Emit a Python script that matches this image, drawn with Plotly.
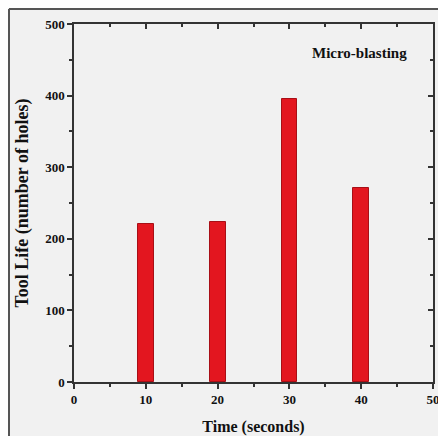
import plotly.graph_objects as go

time_s = [10, 20, 30, 40]
tool_life = [220, 224, 395, 271]
x_ticks = [0, 10, 20, 30, 40, 50]
y_ticks = [0, 100, 200, 300, 400, 500]
label = "Micro-blasting"

font_fam = "Liberation Serif, Times New Roman, serif"

fig = go.Figure()
fig.add_trace(go.Bar(
    x=time_s, y=tool_life, width=2.2,
    marker=dict(color="#e3161f", line=dict(color="#a80f16", width=1)),
    showlegend=False,
))
# invisible trace to activate mirrored tick axes
fig.add_trace(go.Scatter(x=[0], y=[0], xaxis="x2", yaxis="y2",
                         mode="markers", marker=dict(opacity=0), showlegend=False,
                         hoverinfo="skip"))

axis_common = dict(showgrid=False, zeroline=False, linecolor="#333333", linewidth=1.5,
                   tickcolor="#333333", ticklen=5, tickwidth=1.5, automargin=False)

W, H = 438, 428
L, R, T, B = 66, 13, 16, 54
pw, ph = W - L - R, H - T - B

fig.update_layout(
    width=W, height=H,
    margin=dict(l=L, r=R, t=T, b=B, autoexpand=False),
    paper_bgcolor="#f1f1f1", plot_bgcolor="#f1f1f1",
    font=dict(family=font_fam, size=12, color="#111111"),
    xaxis=dict(range=[0, 50], tickvals=x_ticks, ticks="outside", mirror=True,
               minor=dict(ticks="outside", dtick=5, ticklen=3, tickcolor="#333333"),
               title=dict(text="<b>Time (seconds)</b>", font=dict(size=16), standoff=14),
               tickfont=dict(size=13, family=font_fam, weight="bold"),
               **axis_common),
    yaxis=dict(range=[0, 500], tickvals=y_ticks, ticks="outside", mirror=True,
               minor=dict(ticks="outside", dtick=50, ticklen=3, tickcolor="#333333"),
               title=dict(text="<b>Tool Life (number of holes)</b>", font=dict(size=18), standoff=12),
               tickfont=dict(size=13, family=font_fam, weight="bold"),
               **axis_common),
    xaxis2=dict(range=[0, 50], overlaying="x", side="top", tickvals=x_ticks, ticks="inside",
                showticklabels=False, showline=False, automargin=False,
                minor=dict(ticks="inside", dtick=5, ticklen=3, tickcolor="#333333"),
                showgrid=False, zeroline=False, tickcolor="#333333", ticklen=5, tickwidth=1.5),
    yaxis2=dict(range=[0, 500], overlaying="y", side="right", tickvals=y_ticks, ticks="inside",
                showticklabels=False, showline=False, automargin=False,
                minor=dict(ticks="inside", dtick=50, ticklen=3, tickcolor="#333333"),
                showgrid=False, zeroline=False, tickcolor="#333333", ticklen=5, tickwidth=1.5),
    bargap=0,
)

fig.add_annotation(x=39.7, y=459, text="<b>" + label + "</b>", showarrow=False,
                   font=dict(size=15, family=font_fam, color="#111111"))

# outer frame (left and top edges)
fx = (1 - L) / pw
fy = 1 + (T - 1) / ph
fig.add_shape(type="line", xref="paper", yref="paper", x0=fx, x1=1 + R / pw, y0=fy, y1=fy,
              line=dict(color="#555555", width=2))
fig.add_shape(type="line", xref="paper", yref="paper", x0=fx, x1=fx, y0=-B / ph, y1=fy,
              line=dict(color="#555555", width=2))

fig.write_html("out.html")
